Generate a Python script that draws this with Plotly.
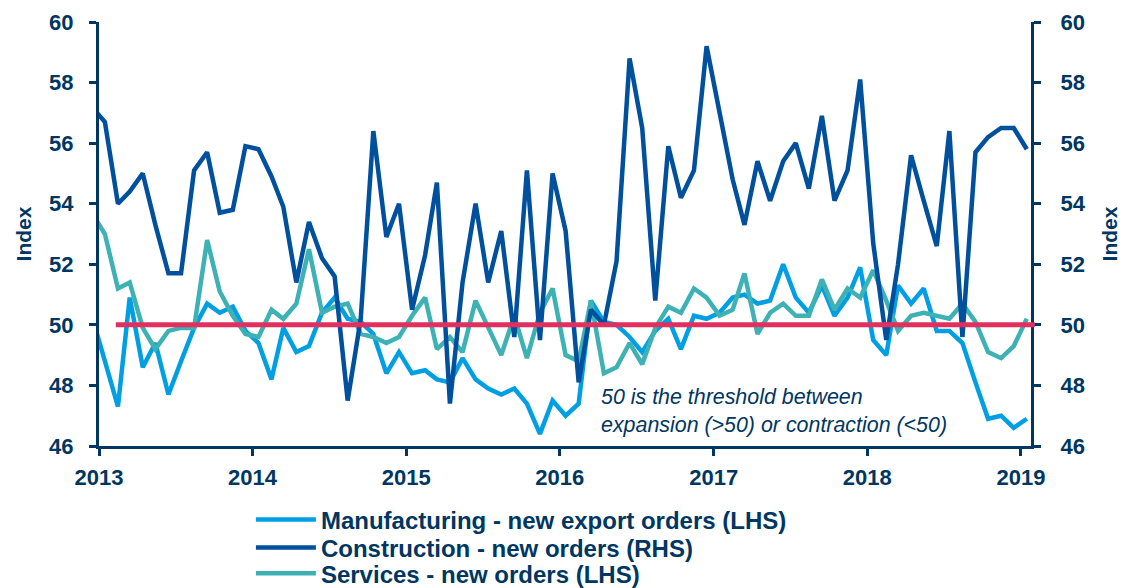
import pandas as pd
import plotly.graph_objects as go

# Monthly observations (mid-month), Dec 2012 .. Jan 2019
months = pd.date_range("2012-12-01", periods=74, freq="MS") + pd.Timedelta(days=14)

manufacturing = [
    50.3, 48.8, 47.3, 50.9, 48.6, 49.4, 47.7, 48.8, 49.9, 50.7,
    50.4, 50.6, 49.8, 49.4, 48.2, 49.9, 49.1, 49.3, 50.4, 50.9,
    50.2, 50.1, 49.7, 48.4, 49.1, 48.4, 48.5, 48.2, 48.1, 48.9,
    48.2, 47.9, 47.7, 47.9, 47.4, 46.4, 47.5, 47.0, 47.4, 50.8,
    50.1, 50.0, 49.6, 49.1, 49.8, 50.2, 49.2, 50.3, 50.2, 50.4,
    50.9, 51.0, 50.7, 50.8, 52.0, 50.9, 50.4, 51.3, 50.3, 50.9,
    51.9, 49.5, 49.0, 51.3, 50.7, 51.2, 49.8, 49.8, 49.4, 48.1,
    46.9, 47.0, 46.6, 46.9,
]
construction = [
    57.2, 56.7, 54.0, 54.4, 55.0, 53.3, 51.7, 51.7, 55.1, 55.7,
    53.7, 53.8, 55.9, 55.8, 54.9, 53.9, 51.4, 53.4, 52.2, 51.6,
    47.5, 50.2, 56.4, 52.9, 54.0, 50.5, 52.3, 54.7, 47.4, 51.4,
    54.0, 51.4, 53.1, 49.6, 55.1, 49.5, 55.0, 53.1, 48.1, 50.5,
    50.0, 52.1, 58.8, 56.5, 50.8, 55.9, 54.2, 55.1, 59.2, 57.0,
    54.8, 53.3, 55.4, 54.1, 55.4, 56.0, 54.5, 56.9, 54.1, 55.1,
    58.1, 52.7, 49.5, 52.0, 55.6, 54.1, 52.6, 56.4, 49.6, 55.7,
    56.2, 56.5, 56.5, 55.8,
]
services = [
    53.7, 53.0, 51.2, 51.4, 49.9, 49.2, 49.8, 49.9, 49.9, 52.8,
    51.1, 50.3, 49.7, 49.6, 50.5, 50.2, 50.7, 52.5, 50.4, 50.6,
    50.7, 49.7, 49.6, 49.4, 49.6, 50.3, 50.9, 49.2, 49.6, 49.1,
    50.8, 49.9, 49.0, 50.3, 48.9, 50.4, 51.2, 49.0, 48.8, 50.8,
    48.4, 48.6, 49.4, 48.7, 49.9, 50.6, 50.4, 51.2, 50.9, 50.3,
    50.5, 51.7, 49.7, 50.4, 50.7, 50.3, 50.3, 51.5, 50.5, 51.2,
    50.9, 51.8, 50.8, 49.8, 50.3, 50.4, 50.3, 50.2, 50.7, 50.1,
    49.1, 48.9, 49.3, 50.2,
]
year_ticks = ["2013", "2014", "2015", "2016", "2017", "2018", "2019"]
y_ticks = [46, 48, 50, 52, 54, 56, 58, 60]
THRESHOLD = 50

NAVY = "#003662"
C_MAN = "#009FE3"
C_CON = "#00509E"
C_SER = "#3DB1B4"
C_RED = "#E2305E"
FONT = "Liberation Sans, Arial, sans-serif"

fig = go.Figure()
fig.add_trace(go.Scatter(x=months, y=manufacturing, mode="lines",
                         name="Manufacturing - new export orders (LHS)",
                         line=dict(color=C_MAN, width=4.5), legend="legend"))
fig.add_trace(go.Scatter(x=months, y=services, mode="lines",
                         name="Services - new orders (LHS)",
                         line=dict(color=C_SER, width=4.5), legend="legend3"))
fig.add_trace(go.Scatter(x=months, y=construction, mode="lines", yaxis="y2",
                         name="Construction - new orders (RHS)",
                         line=dict(color=C_CON, width=4.5), legend="legend2"))

fig.add_shape(type="line", xref="paper", yref="y", x0=0.018, x1=1.004,
              y0=THRESHOLD, y1=THRESHOLD, line=dict(color=C_RED, width=5),
              layer="above")

fig.add_annotation(xref="paper", yref="paper", x=0.5365, y=0.148,
                   xanchor="left", yanchor="top", align="left", showarrow=False,
                   text="<i>50 is the threshold between<br>expansion (&gt;50) or contraction (&lt;50)</i>",
                   font=dict(family=FONT, size=21.4, color=NAVY))

tick_font = dict(family=FONT, size=22, color=NAVY, weight="bold")
title_font = dict(family=FONT, size=21, color=NAVY, weight="bold")
common_y = dict(range=[46, 60], tickvals=y_ticks, ticks="outside", ticklen=7, tickwidth=3,
                tickcolor=NAVY, showline=True, linewidth=3, linecolor=NAVY,
                showgrid=False, zeroline=False, tickfont=tick_font, automargin=False)

legend_common = dict(orientation="v", x=0.163, xanchor="left", yanchor="middle",
                     font=dict(family=FONT, size=24, color=NAVY, weight="bold"),
                     itemwidth=60, bgcolor="rgba(0,0,0,0)")

fig.update_layout(
    width=1123, height=580,
    margin=dict(l=91, r=100, t=14, b=142, autoexpand=False),
    paper_bgcolor="white", plot_bgcolor="white",
    font=dict(family=FONT, color=NAVY),
    xaxis=dict(range=["2013-01-01", "2019-01-25"], type="date",
               tickvals=[f"{y}-01-01" for y in year_ticks],
               ticktext=year_ticks,
               ticks="outside", ticklen=7, tickwidth=3, tickcolor=NAVY,
               showline=True, linewidth=3, linecolor=NAVY, showgrid=False,
               zeroline=False, automargin=False, ticklabelstandoff=3,
               tickfont=dict(family=FONT, size=22, color=NAVY, weight="bold")),
    yaxis=dict(common_y, ticklabelstandoff=11,
               title=dict(text="Index", font=title_font, standoff=12)),
    yaxis2=dict(common_y, overlaying="y", side="right", anchor="x",
                ticklabelstandoff=15,
                title=dict(text="Index", font=title_font, standoff=18)),
    showlegend=True,
    legend=dict(legend_common, y=-0.1745),
    legend2=dict(legend_common, y=-0.2406),
    legend3=dict(legend_common, y=-0.3010),
)

fig.write_html("out.html")
